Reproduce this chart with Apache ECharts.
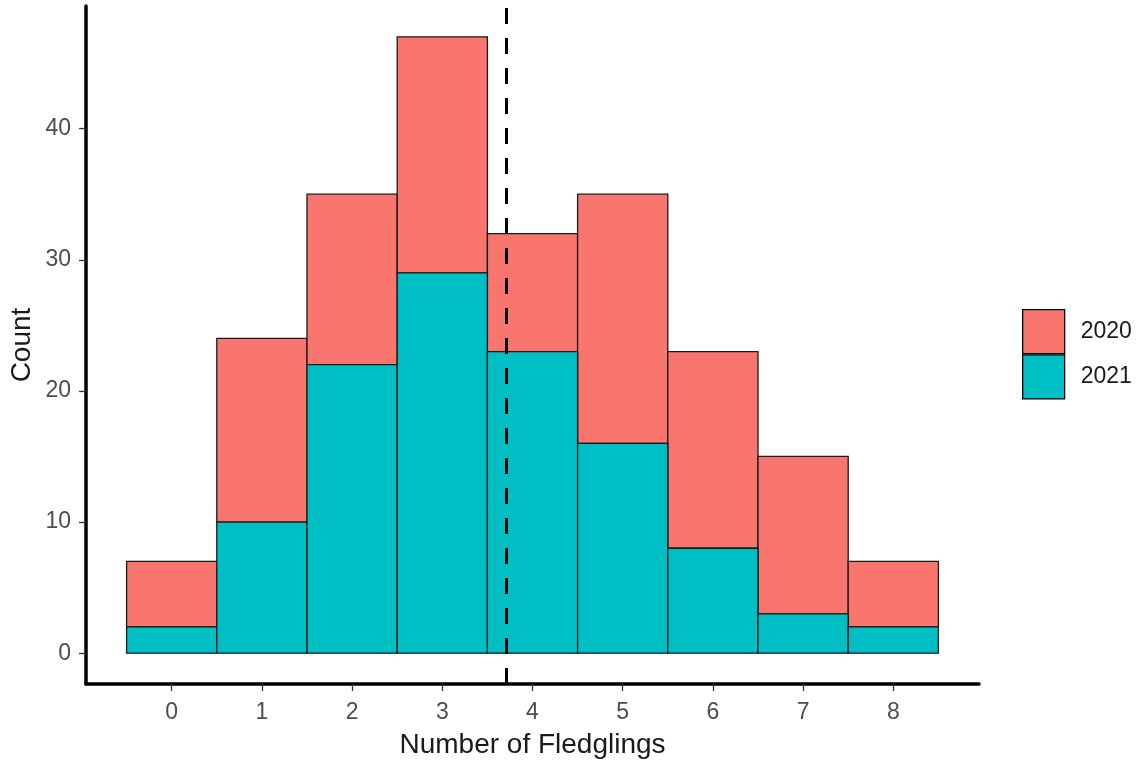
<!DOCTYPE html>
<html>
<head>
<meta charset="utf-8">
<script src="https://cdn.jsdelivr.net/npm/echarts@6/dist/echarts.min.js"></script>
<style>html,body{margin:0;padding:0;background:#fff}#c{width:1139px;height:761px}</style>
</head>
<body>
<div id="c"></div>
<script>
const fledglings = [0, 1, 2, 3, 4, 5, 6, 7, 8];
const count2021 = [2, 10, 22, 29, 23, 16, 8, 3, 2];
const count2020 = [5, 14, 13, 18, 9, 19, 15, 12, 5];
const meanFledglings = 3.71;
const yTicks = [0, 10, 20, 30, 40];
const seriesNames = ['2020', '2021'];
const colors = {'2020': '#F8766D', '2021': '#00BFC4'};

function renderRect(params, api) {
  const x = api.value(0), lo = api.value(1), hi = api.value(2);
  const p1 = api.coord([x - 0.5, hi]);
  const p2 = api.coord([x + 0.5, lo]);
  return {
    type: 'rect',
    shape: {x: p1[0], y: p1[1], width: p2[0] - p1[0], height: p2[1] - p1[1]},
    style: {fill: api.visual('color'), stroke: '#1a1a1a', lineWidth: 1.3}
  };
}

const data2021 = fledglings.map((x, i) => [x, 0, count2021[i]]);
const data2020 = fledglings.map((x, i) => [x, count2021[i], count2021[i] + count2020[i]]);

const chart = echarts.init(document.getElementById('c'));
const font = 'Liberation Sans, Arial, sans-serif';
chart.setOption({
  animation: false,
  backgroundColor: '#fff',
  grid: {left: 86, right: 160, top: 6, bottom: 77, containLabel: false, outerBoundsMode: 'none'},
  legend: {
    orient: 'vertical', left: 1022, top: 309, itemGap: 0, padding: 0,
    itemWidth: 42, itemHeight: 44,
    icon: 'rect',
    data: seriesNames,
    textStyle: {fontFamily: font, fontSize: 23, color: '#1a1a1a', padding: [0, 0, 0, 11]},
    itemStyle: {borderColor: '#000', borderWidth: 1.3}
  },
  xAxis: {
    type: 'value', min: -0.95, max: 8.95,
    name: 'Number of Fledglings', nameLocation: 'middle', nameGap: 47, nameMoveOverlap: false,
    nameTextStyle: {fontFamily: font, fontSize: 28, color: '#1a1a1a'},
    axisLine: {onZero: false, lineStyle: {color: '#000', width: 3.5}},
    axisTick: {show: true, length: 7, lineStyle: {color: '#333', width: 1.3}, customValues: fledglings},
    axisLabel: {fontFamily: font, fontSize: 23, color: '#4D4D4D', margin: 17, customValues: fledglings},
    splitLine: {show: false}
  },
  yAxis: {
    type: 'value', min: -2.35, max: 49.35,
    name: 'Count', nameLocation: 'middle', nameGap: 50, nameMoveOverlap: false,
    nameTextStyle: {fontFamily: font, fontSize: 28, color: '#1a1a1a'},
    axisLine: {onZero: false, lineStyle: {color: '#000', width: 3.5}},
    axisTick: {show: true, length: 7, lineStyle: {color: '#333', width: 1.3}, customValues: yTicks},
    axisLabel: {fontFamily: font, fontSize: 23, color: '#4D4D4D', margin: 15, customValues: yTicks},
    splitLine: {show: false}
  },
  series: [
    {
      name: '2020', type: 'custom', renderItem: renderRect, data: data2020,
      itemStyle: {color: colors['2020']},
      encode: {x: 0, y: [1, 2]}
    },
    {
      name: '2021', type: 'custom', renderItem: renderRect, data: data2021,
      itemStyle: {color: colors['2021']},
      encode: {x: 0, y: [1, 2]},
      markLine: {
        silent: true, symbol: 'none', label: {show: false},
        lineStyle: {color: '#000', type: [16, 14], width: 3},
        data: [{xAxis: meanFledglings}],
        z: 10
      }
    }
  ]
});
</script>
</body>
</html>
